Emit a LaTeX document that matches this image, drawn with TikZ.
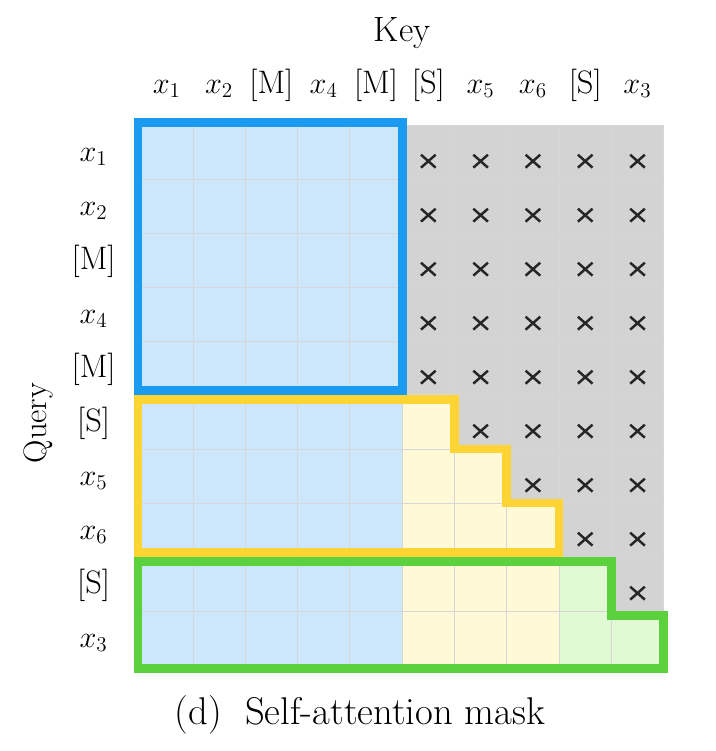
\documentclass[tikz,border=0pt]{standalone}
\usepackage{xcolor}
\usepackage{tikz}
\usetikzlibrary{positioning}
\definecolor{qblue}{HTML}{CCE6FA}
\definecolor{qblueline}{HTML}{1A9BF0}
\definecolor{qyellow}{HTML}{FFF9D8}
\definecolor{qyellowline}{HTML}{FCD433}
\definecolor{qgreen}{HTML}{E2F9D6}
\definecolor{qgreenline}{HTML}{5BD13E}
\definecolor{qgray}{HTML}{D3D3D3}
\tikzset{
    lbl/.style={font=\fontsize{18.5}{22}\selectfont, inner sep=0pt, anchor=base},
    head/.style={font=\fontsize{20}{24}\selectfont, inner sep=0pt},
    frame/.style={line width=5pt, line join=miter},
    gridln/.style={draw=black!16, line width=0.5pt},
    xmark/.pic={\draw[line width=1.4pt, black!85] (-0.14,-0.12) -- (0.14,0.12) (-0.14,0.12) -- (0.14,-0.12);},
}

\begin{document}
\begin{tikzpicture}[x=1.046cm, y=-1.08cm]
    \useasboundingbox (-2.69,-2.315) rectangle (11.0,11.593);
    % cell colours
    \fill[qgray] (5,0) rectangle (10,10);
    \fill[qblue] (0,0) rectangle (5,10);
    \fill[qyellow] (5,5) -- (6,5) -- (6,6) -- (7,6) -- (7,7) -- (8,7) -- (8,10) -- (5,10) -- cycle;
    \fill[qgreen] (8,8) -- (9,8) -- (9,9) -- (10,9) -- (10,10) -- (8,10) -- cycle;
    \foreach \i in {0,...,10} {
        \draw[gridln] (\i,0) -- (\i,10);
        \draw[gridln] (0,\i) -- (10,\i);
    }
    % masked positions
    \foreach \r in {0,...,8} {
        \pgfmathtruncatemacro{\first}{max(5,\r+1)}
        \foreach \c in {\first,...,9}
            \pic at (\c+0.5,\r+0.67) {xmark};
    }
    % frames
    \def\ins{0.085}
    \draw[frame, qblueline] (-0.05,-0.04) rectangle (5,5-\ins);
    \draw[frame, qyellowline] (-0.05,5+\ins) -- (6,5+\ins) -- (6,6) -- (7,6) -- (7,7) -- (8,7) -- (8,8-\ins) -- (-0.05,8-\ins) -- cycle;
    \draw[frame, qgreenline] (-0.05,8+\ins) -- (9,8+\ins) -- (9,9.09) -- (10,9.09) -- (10,10.07) -- (-0.05,10.07) -- cycle;
    % labels
    \node[head] (key) at (5,-1.70) {Key};
    \foreach \t [count=\i] in {$x_1$,$x_2$,{[M]},$x_4$,{[M]},{[S]},$x_5$,$x_6$,{[S]},$x_3$} {
        \node[lbl] (k\i) at (\i-0.5,-0.59) {\t};
        \node[lbl] (q\i) at (-0.90,\i-0.33) {\t};
    }
    \node[lbl, anchor=center, rotate=90] (query) at (-1.96,5.52) {Query};
    \node[head, font=\fontsize{22}{26}\selectfont] (caption) at (4.19,10.93) {(d)\ \ Self-attention mask};
\end{tikzpicture}
\end{document}
